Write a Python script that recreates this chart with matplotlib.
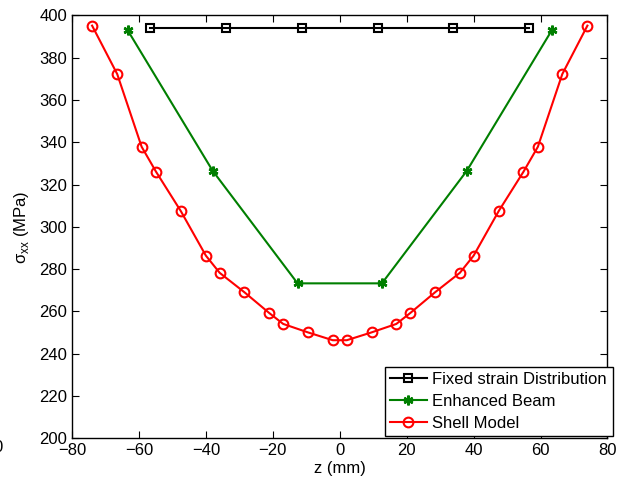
import matplotlib
matplotlib.use('Agg')
import matplotlib.pyplot as plt

plt.rcParams['font.family'] = ['Liberation Sans', 'DejaVu Sans']
plt.rcParams['font.size'] = 12
plt.rcParams['mathtext.fontset'] = 'custom'
plt.rcParams['mathtext.rm'] = 'Liberation Sans'

# data
z_fixed = [-56.6, -33.9, -11.3, 11.3, 33.9, 56.6]
s_fixed = [394, 394, 394, 394, 394, 394]

z_beam = [-63.4, -38.0, -12.6, 12.6, 38.0, 63.4]
s_beam = [393.1, 326.6, 273.3, 273.3, 326.6, 393.1]

z_shell = [-74.0, -66.5, -59.2, -54.9, -47.5, -40.0, -35.9, -28.5, -21.1, -16.9, -9.5, -2.1,
           2.1, 9.5, 16.9, 21.1, 28.5, 35.9, 40.0, 47.5, 54.9, 59.2, 66.5, 74.0]
s_shell = [395.2, 372.3, 337.9, 326.1, 307.5, 286.4, 278.3, 269.1, 259.3, 254.1, 250.1, 246.4,
           246.4, 250.1, 254.1, 259.3, 269.1, 278.3, 286.4, 307.5, 326.1, 337.9, 372.3, 395.2]

fig = plt.figure(figsize=(6.29, 4.84), dpi=100)
ax = fig.add_axes([0.1145, 0.0944, 0.8513, 0.8736])

ax.plot(z_fixed, s_fixed, color='black', lw=1.5, marker='s', ms=6, mfc='none', mew=1.5,
        label='Fixed strain Distribution')
ax.plot(z_beam, s_beam, color='#007f00', lw=1.5, marker=(6, 2, 0), ms=7, mew=1.8,
        label='Enhanced Beam')
ax.plot(z_shell, s_shell, color='red', lw=1.5, marker='o', ms=7, mfc='none', mew=1.5,
        label='Shell Model')

ax.set_xlim(-80, 80)
ax.set_ylim(200, 400)
ax.set_xticks(range(-80, 81, 20))
ax.set_yticks(range(200, 401, 20))
ax.set_xticklabels([f'\u2212{abs(v)}' if v < 0 else str(v) for v in range(-80, 81, 20)])
ax.tick_params(direction='in', top=True, right=True, length=5, width=0.8)
for sp in ax.spines.values():
    sp.set_linewidth(1.0)

ax.set_xlabel('z (mm)', labelpad=2)
ax.set_ylabel('\u03c3$_{\\rm xx}$ (MPa)', labelpad=6)

lgd = ax.legend(loc='lower left', bbox_to_anchor=(0.612, 0.099, 0.3626, 0.1454),
                bbox_transform=fig.transFigure, mode='expand', fancybox=False,
                edgecolor='black', framealpha=1, borderpad=0.3, labelspacing=0.42,
                handlelength=2.2, handletextpad=0.35, borderaxespad=0)
lgd.get_frame().set_linewidth(1.0)

# clipped stray label at the left edge
fig.text(3 / 629, 1 - 447.5 / 484, '0', ha='right', va='center')

fig.savefig('out.png', dpi=100)
